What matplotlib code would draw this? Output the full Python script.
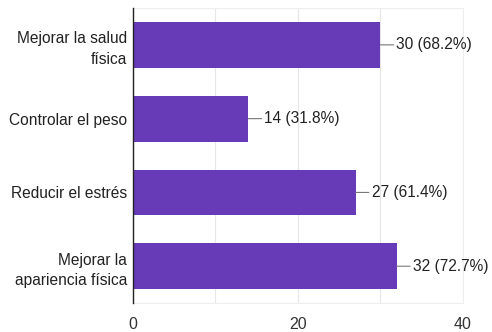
import matplotlib.pyplot as plt

categorias = ['Mejorar la salud\nfísica', 'Controlar el peso',
              'Reducir el estrés', 'Mejorar la\napariencia física']
valores = [30, 14, 27, 32]
porcentajes = [68.2, 31.8, 61.4, 72.7]
ticks_x = [0, 20, 40]

plt.rcParams['font.family'] = ['Liberation Sans', 'DejaVu Sans']

fig = plt.figure(figsize=(4.92, 3.32), dpi=100)
ax = fig.add_axes([0.270, 0.087, 0.671, 0.889])

pos = list(range(len(categorias)))
ax.barh(pos, valores, height=0.62, color='#673ab7', zorder=3)

# etiquetas con linea
for p, v, pc in zip(pos, valores, porcentajes):
    ax.annotate(f'{v} ({pc}%)', xy=(v, p), xytext=(11.5, 0),
                textcoords='offset points', va='center', ha='left',
                fontsize=11.2, color='#222222',
                arrowprops=dict(arrowstyle='-', color='#777777', lw=0.8,
                                shrinkA=0, shrinkB=0))

ax.set_xlim(0, 40)
ax.set_ylim(3.5, -0.5)
ax.set_xticks(ticks_x)
ax.set_xticks([10, 30], minor=True)
ax.set_yticks(pos)
ax.set_yticklabels(categorias, fontsize=11.2, color='#222222',
                   linespacing=1.45, multialignment='right')
ax.tick_params(axis='x', which='both', length=0, pad=10, labelsize=11.5,
               labelcolor='#333333')
ax.tick_params(axis='y', length=0, pad=4)

ax.grid(axis='x', which='both', color='#e6e6e6', lw=0.8, zorder=0)
for s in ['top', 'bottom', 'right']:
    ax.spines[s].set_color('#eeeeee')
    ax.spines[s].set_linewidth(0.8)
ax.spines['left'].set_color('#222222')
ax.spines['left'].set_linewidth(1.0)
ax.spines['left'].set_zorder(4)

plt.savefig('out.png', dpi=100)
